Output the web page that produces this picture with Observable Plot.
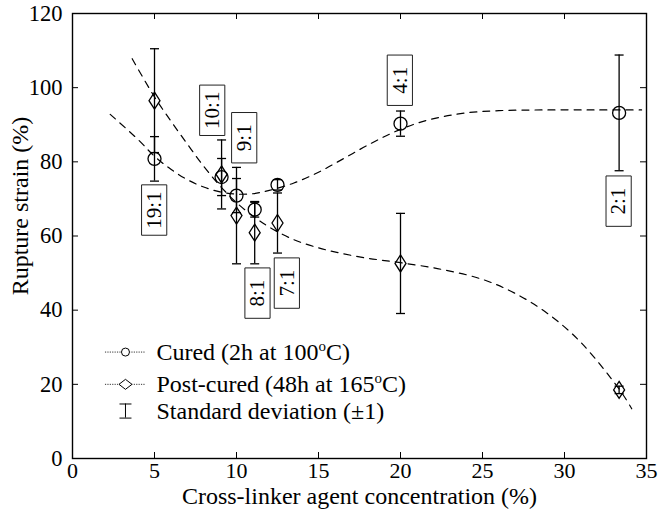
<!DOCTYPE html>
<html>
<head>
<meta charset="utf-8">
<script src="https://cdn.jsdelivr.net/npm/d3@7"></script>
<script src="https://cdn.jsdelivr.net/npm/@observablehq/plot@0.6"></script>
<style>
  html, body { margin: 0; padding: 0; background: white; }
  svg text { font-family: "Liberation Serif", "Times New Roman", serif; }
</style>
</head>
<body>
<div id="chart"></div>
<script>
// ---- data ----
const ratios = ["19:1", "10:1", "9:1", "8:1", "7:1", "4:1", "2:1"];
const conc = [5, 9.09, 10, 11.11, 12.5, 20, 33.33];
const curedMean = [80.8, 75.9, 70.9, 67.1, 73.8, 90.3, 93.2];
const curedSD = [6.0, 5.0, 4.6, 2.0, 1.4, 3.4, 15.6];
const postMean = [96.5, 76.6, 65.5, 60.9, 63.5, 52.6, 18.5];
const postSD = [14.0, 9.3, 13.0, 8.4, 8.1, 13.5, 1.0];
const labelX = [4.98, 8.52, 10.47, 11.28, 13.07, 19.96, 33.3];
const labelY = [67, 93.9, 86.5, 44.6, 47.3, 102, 69.4];

const curedCurveX = [2.3, 4, 5, 6, 7, 8, 9, 10, 11, 12, 13.5, 15, 16.5, 18, 19.5, 21, 22.5, 24, 26, 29, 32, 34.7];
const curedCurveY = [92.8, 86, 81.5, 78, 75.2, 73.2, 71.9, 71.3, 71.4, 72.3, 74.3, 77.2, 80.8, 84.5, 87.8, 90.4, 92.1, 93.2, 93.8, 94, 94, 94];
const postCurveX = [3.64, 5, 6, 7, 8, 9, 10, 11, 12, 13.5, 15, 16.3, 18, 20, 22.5, 25, 27, 29, 31, 33.4, 34.1];
const postCurveY = [107.8, 97.5, 91, 84.8, 78.8, 73.5, 69, 65.4, 62.4, 59, 56.8, 55.4, 54, 52.8, 51, 48.3, 44.5, 39, 31.3, 18.3, 13.4];

const xTicks = [0, 5, 10, 15, 20, 25, 30, 35];
const yTicks = [0, 20, 40, 60, 80, 100, 120];

const legendLabels = ["Cured (2h at 100^oC)", "Post-cured (48h at 165^oC)", "Standard deviation (\u00b11)"];
const legendY = [28.7, 20.0, 12.8];

// ---- tables ----
const points = conc.map((c, i) => ({
  x: c, ratio: ratios[i],
  cm: curedMean[i], csd: curedSD[i],
  pm: postMean[i], psd: postSD[i],
  lx: labelX[i], ly: labelY[i]
}));
const curedCurve = curedCurveX.map((x, i) => ({x, y: curedCurveY[i]}));
const postCurve = postCurveX.map((x, i) => ({x, y: postCurveY[i]}));
const legend = legendLabels.map((t, i) => ({t, y: legendY[i]}));

// ---- symbols ----
const diamond = {draw(ctx) { ctx.moveTo(0, -8.5); ctx.lineTo(5.5, 0); ctx.lineTo(0, 8.5); ctx.lineTo(-5.5, 0); ctx.closePath(); }};
const diamondSmall = {draw(ctx) { ctx.moveTo(0, -5); ctx.lineTo(6.5, 0); ctx.lineTo(0, 5); ctx.lineTo(-6.5, 0); ctx.closePath(); }};
const cap = {draw(ctx) { ctx.moveTo(-4.5, 0); ctx.lineTo(4.5, 0); }};
const capLegend = {draw(ctx) { ctx.moveTo(-6, 0); ctx.lineTo(6, 0); }};
const box = {draw(ctx) { ctx.rect(-12.6, -25.2, 25.2, 50.4); }};

const W = 660, H = 510, mL = 72, mR = 14, mT = 13, mB = 52;
const fw = W - mL - mR, fh = H - mT - mB, tick = 6;
const ff = "Liberation Serif";
const sw = 1.3;

const legX1 = 2.01, legX2 = 4.45, legXm = 3.23, legXt = 5.12;

const chart = Plot.plot({
  width: W, height: H,
  marginLeft: mL, marginRight: mR, marginTop: mT, marginBottom: mB,
  x: {domain: [0, 35], axis: null},
  y: {domain: [0, 120], axis: null},
  style: {fontFamily: '"Liberation Serif", serif', background: "white", color: "black"},
  marks: [
    // ticks (inward) on all four sides
    Plot.ruleX(xTicks, {x: d => d, insetTop: fh - tick, stroke: "black", strokeWidth: 1}),
    Plot.ruleX(xTicks, {x: d => d, insetBottom: fh - tick, stroke: "black", strokeWidth: 1}),
    Plot.ruleY(yTicks, {y: d => d, insetRight: fw - tick, stroke: "black", strokeWidth: 1}),
    Plot.ruleY(yTicks, {y: d => d, insetLeft: fw - tick, stroke: "black", strokeWidth: 1}),
    // tick labels
    Plot.text(xTicks, {x: d => d, text: d => String(d), frameAnchor: "bottom", dy: 12.5, lineAnchor: "middle", fontSize: 22, fontFamily: ff}),
    Plot.text(yTicks, {y: d => d, text: d => String(d), frameAnchor: "left", dx: -10, textAnchor: "end", lineAnchor: "middle", fontSize: 22.5, fontFamily: ff}),
    // axis titles
    Plot.text(["Cross-linker agent concentration (%)"], {text: d => d, frameAnchor: "bottom", dy: 38, textAnchor: "middle", lineAnchor: "middle", fontSize: 24, fontFamily: ff}),
    Plot.text(["Rupture strain (%)"], {text: d => d, frameAnchor: "left", dx: -52, dy: -30, rotate: -90, textAnchor: "middle", lineAnchor: "middle", fontSize: 24, fontFamily: ff}),
    // error bars
    Plot.ruleX(points, {x: "x", y1: d => d.pm - d.psd, y2: d => d.pm + d.psd, stroke: "black", strokeWidth: sw}),
    Plot.dot(points, {x: "x", y: d => d.pm - d.psd, symbol: cap, stroke: "black", strokeWidth: sw, fill: "none"}),
    Plot.dot(points, {x: "x", y: d => d.pm + d.psd, symbol: cap, stroke: "black", strokeWidth: sw, fill: "none"}),
    Plot.ruleX(points, {x: "x", y1: d => d.cm - d.csd, y2: d => d.cm + d.csd, stroke: "black", strokeWidth: sw}),
    Plot.dot(points, {x: "x", y: d => d.cm - d.csd, symbol: cap, stroke: "black", strokeWidth: sw, fill: "none"}),
    Plot.dot(points, {x: "x", y: d => d.cm + d.csd, symbol: cap, stroke: "black", strokeWidth: sw, fill: "none"}),
    // fitted dashed curves
    Plot.line(curedCurve, {x: "x", y: "y", curve: "catmull-rom", stroke: "black", strokeWidth: 1.2, strokeDasharray: "7,6"}),
    Plot.line(postCurve, {x: "x", y: "y", curve: "catmull-rom", stroke: "black", strokeWidth: 1.2, strokeDasharray: "7,6"}),
    // markers
    Plot.dot(points, {x: "x", y: "cm", r: 6.5, symbol: "circle", stroke: "black", strokeWidth: sw, fill: "none"}),
    Plot.dot(points, {x: "x", y: "pm", symbol: diamond, stroke: "black", strokeWidth: sw, fill: "none"}),
    // ratio label boxes
    Plot.dot(points, {x: "lx", y: "ly", symbol: box, stroke: "#222", strokeWidth: 1, fill: "white"}),
    Plot.text(points, {x: "lx", y: "ly", text: "ratio", rotate: -90, textAnchor: "middle", lineAnchor: "middle", fontSize: 21, fontFamily: ff}),
    // legend
    Plot.ruleY(legend.slice(0, 2), {y: "y", x1: legX1, x2: legX2, stroke: "black", strokeWidth: 0.8, strokeDasharray: "1.2,1.2"}),
    Plot.dot(legend.slice(0, 1), {x: legXm, y: "y", r: 4, symbol: "circle", stroke: "black", strokeWidth: 1, fill: "white"}),
    Plot.dot(legend.slice(1, 2), {x: legXm, y: "y", symbol: diamondSmall, stroke: "black", strokeWidth: 1, fill: "white"}),
    Plot.ruleX(legend.slice(2, 3), {x: legXm, y1: d => d.y - 1.9, y2: d => d.y + 1.9, stroke: "black", strokeWidth: 1}),
    Plot.dot(legend.slice(2, 3), {x: legXm, y: d => d.y - 1.9, symbol: capLegend, stroke: "black", strokeWidth: 1, fill: "none"}),
    Plot.dot(legend.slice(2, 3), {x: legXm, y: d => d.y + 1.9, symbol: capLegend, stroke: "black", strokeWidth: 1, fill: "none"}),
    Plot.text(legend, {x: legXt, y: "y", text: "t", textAnchor: "start", lineAnchor: "middle", fontSize: 24, fontFamily: ff}),
    // frame
    Plot.frame({stroke: "black", strokeWidth: 1.4})
  ]
});

document.getElementById("chart").appendChild(chart);

// superscript "o" in legend labels
chart.querySelectorAll("text").forEach(t => {
  const s = t.textContent;
  if (s.includes("^o")) {
    const [a, b] = s.split("^o");
    t.textContent = "";
    t.appendChild(document.createTextNode(a));
    const sup = document.createElementNS("http://www.w3.org/2000/svg", "tspan");
    sup.setAttribute("dy", "-9");
    sup.setAttribute("font-size", "15");
    sup.textContent = "o";
    t.appendChild(sup);
    const rest = document.createElementNS("http://www.w3.org/2000/svg", "tspan");
    rest.setAttribute("dy", "9");
    rest.textContent = b;
    t.appendChild(rest);
  }
});
</script>
</body>
</html>
